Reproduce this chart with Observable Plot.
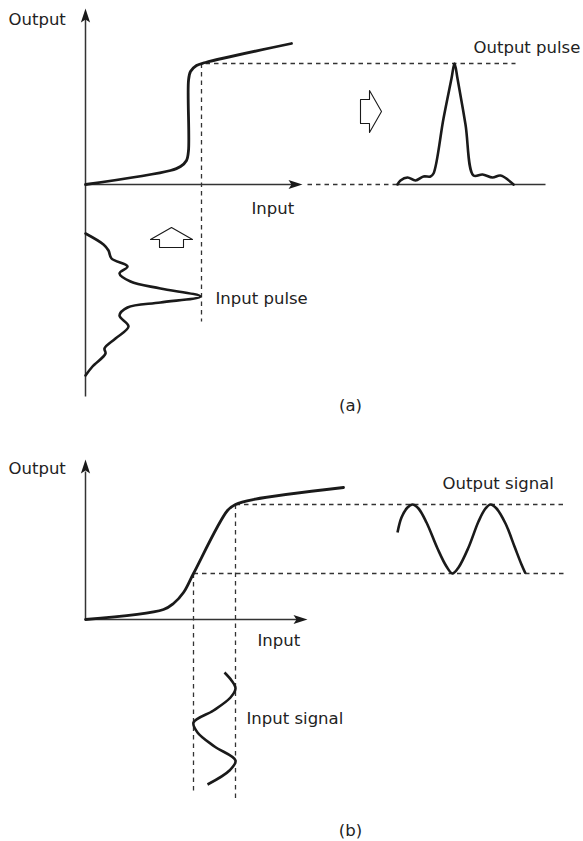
<!DOCTYPE html>
<html>
<head>
<meta charset="utf-8">
<script src="https://cdn.jsdelivr.net/npm/d3@7"></script>
<script src="https://cdn.jsdelivr.net/npm/@observablehq/plot@0.6"></script>
<style>
  html, body { margin: 0; padding: 0; background: #fff; }
  #chart svg { display: block; }
</style>
</head>
<body>
<div id="chart"></div>
<script>
// ---------- Panel (a): step-like transfer curve (units: input / output from origin) ----------
const transferA = [[0,0],[85,14],[95,18],[101,24],[103,34],[103,104],[105,113],[111,119],[120,122],[206,141]];
const outPulseA = [[312,0],[315,4],[322,7],[330,4],[338,8],[345,8],[348,11],[358,66],[366,106],[369,121],[372,106],[380,60],[388,9],[397,10],[407,7],[415,9],[428,0]];
const inPulseA = [[0,-49],[18,-60],[23,-66],[26,-74],[42,-82],[34,-89],[45,-97],[75,-104],[115,-112],[75,-118],[42,-123],[34,-131],[43,-142],[30,-154],[19,-164],[20,-169],[7,-182],[0,-191]];
const axesA = [{x1:0,y1:-212,x2:0,y2:166},{x1:0,y1:0,x2:207,y2:0},{x1:312,y1:0,x2:460,y2:0}];
const tipsA = [{x:0,y:176,rotate:0},{x:217,y:0,rotate:90}];
const guidesA = [{x1:222,y1:0,x2:312,y2:0},{x1:120,y1:121,x2:430,y2:121},{x1:116,y1:121,x2:116,y2:-137}];
const hollowRightA = [[275,85],[284,85],[284,94],[296,73],[284,52],[284,61],[275,61],[275,85]];
const hollowUpA = [[74,-63],[74,-55],[65,-55],[86,-43],[107,-55],[98,-55],[98,-63],[74,-63]];
const labelsA = [
  {x:-77,y:160,text:"Output"},
  {x:166,y:-29,text:"Input"},
  {x:130,y:-119,text:"Input pulse"},
  {x:388,y:132,text:"Output pulse"}
];
const captionA = [{x:265,y:-226,text:"(a)"}];

// ---------- Panel (b): linear-region transfer curve ----------
const transferB = [[0,0],[78,10],[88,16],[98,27],[108,46],[142,109],[150,115],[168,120],[258,132]];
const outSignalB = [[312,87],[316,102],[322,112],[327,115],[333,111],[341,97],[352,71],[361,53],[367,46],[373,52],[383,72],[393,98],[400,111],[405,115],[411,111],[420,96],[429,73],[436,55],[440,46]];
const inSignalB = [[139,-53],[146,-61],[150,-69],[145,-78],[128,-91],[108,-103],[112,-113],[129,-127],[150,-141],[144,-151],[122,-165]];
const axesB = [{x1:0,y1:0,x2:0,y2:148},{x1:0,y1:0,x2:212,y2:0}];
const tipsB = [{x:0,y:160,rotate:0},{x:222,y:0,rotate:90}];
const guidesB = [{x1:150,y1:115,x2:480,y2:115},{x1:108,y1:46,x2:480,y2:46},{x1:108,y1:46,x2:108,y2:-174},{x1:150,y1:115,x2:150,y2:-181}];
const labelsB = [
  {x:-77,y:146,text:"Output"},
  {x:172,y:-26,text:"Input"},
  {x:161,y:-104,text:"Input signal"},
  {x:357,y:131,text:"Output signal"}
];
const captionB = [{x:265,y:-216,text:"(b)"}];

// filled arrowhead symbol (tip at the dot's anchor, pointing up before rotation)
const arrowHead = {
  draw(ctx) {
    ctx.moveTo(0, 0);
    ctx.lineTo(4.6, 14);
    ctx.lineTo(0, 11);
    ctx.lineTo(-4.6, 14);
    ctx.closePath();
  }
};

const INK = "#1a1a1a";
const AXIS = "#333";
const FONT = "DejaVu Sans, sans-serif";

function panel({height, ydomain, transfer, axes, tips, guides, labels, caption, extra}) {
  return Plot.plot({
    width: 583,
    height,
    margin: 0,
    x: {domain: [-85, 498], axis: null},
    y: {domain: ydomain, axis: null},
    style: {fontFamily: FONT, overflow: "visible", background: "white"},
    marks: [
      Plot.link(guides, {x1:"x1", y1:"y1", x2:"x2", y2:"y2", stroke: AXIS, strokeWidth: 1.3, strokeDasharray: "4.5,4"}),
      Plot.link(axes, {x1:"x1", y1:"y1", x2:"x2", y2:"y2", stroke: AXIS, strokeWidth: 1.5}),
      Plot.dot(tips, {x:"x", y:"y", rotate:"rotate", symbol: arrowHead, fill: INK, stroke: "none"}),
      Plot.line(transfer, {curve: "catmull-rom", stroke: INK, strokeWidth: 2.8, strokeLinejoin: "round", strokeLinecap: "round"}),
      ...extra,
      Plot.text(labels, {x:"x", y:"y", text:"text", textAnchor: "start", lineAnchor: "bottom", fontSize: 16.5, fill: "#222", fontFamily: FONT}),
      Plot.text(caption, {x:"x", y:"y", text:"text", textAnchor: "middle", lineAnchor: "bottom", fontSize: 16.5, fill: "#222", fontFamily: FONT})
    ]
  });
}

const chart = document.getElementById("chart");

chart.append(panel({
  height: 420,
  ydomain: [-236, 184],
  transfer: transferA,
  axes: axesA,
  tips: tipsA,
  guides: guidesA,
  labels: labelsA,
  caption: captionA,
  extra: [
    Plot.line(outPulseA, {curve: "catmull-rom", stroke: INK, strokeWidth: 2.6, strokeLinejoin: "round"}),
    Plot.line(inPulseA, {curve: "catmull-rom", stroke: INK, strokeWidth: 2.6, strokeLinejoin: "round"}),
    Plot.line(hollowRightA, {stroke: INK, strokeWidth: 1.1, fill: "white"}),
    Plot.line(hollowUpA, {stroke: INK, strokeWidth: 1.1, fill: "white"})
  ]
}));

chart.append(panel({
  height: 421,
  ydomain: [-222, 199],
  transfer: transferB,
  axes: axesB,
  tips: tipsB,
  guides: guidesB,
  labels: labelsB,
  caption: captionB,
  extra: [
    Plot.line(outSignalB, {curve: "catmull-rom", stroke: INK, strokeWidth: 2.6, strokeLinecap: "butt"}),
    Plot.line(inSignalB, {curve: "catmull-rom", stroke: INK, strokeWidth: 2.6, strokeLinecap: "butt"})
  ]
}));
</script>
</body>
</html>
